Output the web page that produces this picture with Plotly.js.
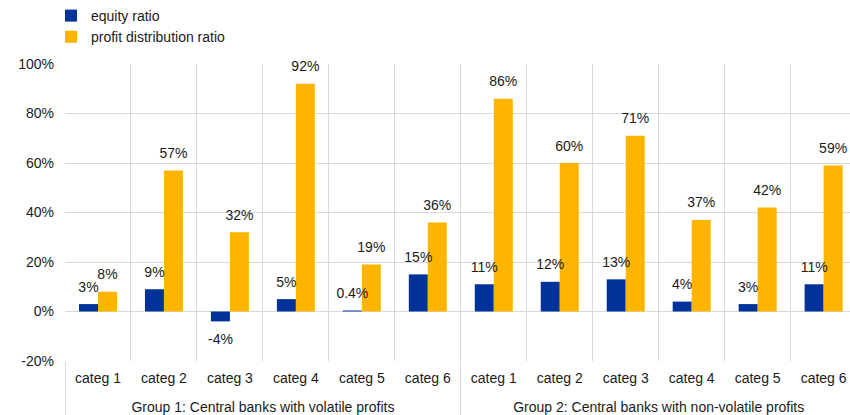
<!DOCTYPE html>
<html>
<head>
<meta charset="utf-8">
<script src="https://cdn.plot.ly/plotly-3.0.1.min.js"></script>
<style>
  html, body { margin: 0; padding: 0; background: #fff; }
  #chart { width: 850px; height: 415px; }
</style>
</head>
<body>
<div id="chart"></div>
<script>
// Category groups and per-category values (in percent)
const groupNames = [
  'Group 1: Central banks with volatile profits',
  'Group 2: Central banks with non-volatile profits'
];
const categories = ['categ 1', 'categ 2', 'categ 3', 'categ 4', 'categ 5', 'categ 6'];
const equityRatio = [3, 9, -4, 5, 0.4, 15, 11, 12, 13, 4, 3, 11];
const profitDistributionRatio = [8, 57, 32, 92, 19, 36, 86, 60, 71, 37, 42, 59];
const yTickValues = [-20, 0, 20, 40, 60, 80, 100];

// Two-level x coordinates: [group, category]; the leading break drops the
// group caption one line below the category labels
const xGroup = [];
const xCat = [];
groupNames.forEach(g => categories.forEach(c => { xGroup.push('<br>' + g); xCat.push(c); }));
const x = [xGroup, xCat];

const BLUE = '#003299';
const GOLD = '#FFB400';
const FONT = '"Liberation Sans", Arial, sans-serif';
const TEXT = '#1a1a1a';
const GRID = '#d9d9d9';
const LABEL_GAP = 2.6; // clearance between a bar end and its value label, in axis units

function valueBars(name, values, color, group) {
  return {
    type: 'bar', name: name, x: x, y: values,
    offsetgroup: group,
    marker: { color: color, line: { width: 0 } },
    hoverinfo: 'skip'
  };
}

// Transparent spacer bars that carry each value label just past the bar end
function labelBars(values, group) {
  return {
    type: 'bar', x: x,
    base: values,
    y: values.map(v => (v < 0 ? -LABEL_GAP : LABEL_GAP)),
    offsetgroup: group,
    marker: { color: 'rgba(0,0,0,0)', line: { width: 0 } },
    text: values.map(v => v + '%'),
    textposition: 'outside',
    constraintext: 'none',
    cliponaxis: false,
    textfont: { family: FONT, size: 14, color: TEXT },
    showlegend: false,
    hoverinfo: 'skip'
  };
}

const data = [
  valueBars('equity ratio', equityRatio, BLUE, 'eq'),
  valueBars('profit distribution ratio', profitDistributionRatio, GOLD, 'pd'),
  labelBars(equityRatio, 'eq'),
  labelBars(profitDistributionRatio, 'pd')
];

const layout = {
  width: 850, height: 415,
  margin: { l: 65, r: 0, t: 64, b: 54, autoexpand: false },
  paper_bgcolor: '#fff', plot_bgcolor: '#fff',
  font: { family: FONT, size: 14, color: TEXT },
  barmode: 'group',
  bargap: 0.424,
  bargroupgap: 0,
  showlegend: true,
  legend: {
    xref: 'container', yref: 'container',
    x: 0.06, y: 1, xanchor: 'left', yanchor: 'top',
    bgcolor: 'rgba(0,0,0,0)',
    font: { family: FONT, size: 14, color: TEXT },
    traceorder: 'normal'
  },
  xaxis: {
    type: 'multicategory',
    range: [-0.5, 11.4],
    tickson: 'boundaries',
    tickangle: 0,
    automargin: false,
    ticklabelstandoff: 7,
    showgrid: true, gridcolor: GRID, gridwidth: 1,
    showdividers: true, dividercolor: GRID, dividerwidth: 1,
    ticks: '',
    showline: false,
    zeroline: false,
    tickfont: { family: FONT, size: 14, color: TEXT }
  },
  yaxis: {
    range: [-20, 100],
    tickvals: yTickValues,
    ticktext: yTickValues.map(v => v + '%'),
    automargin: false,
    showgrid: true, gridcolor: GRID, gridwidth: 1,
    zeroline: true, zerolinecolor: GRID, zerolinewidth: 1,
    showline: false,
    ticks: '',
    ticklabelstandoff: 10,
    tickfont: { family: FONT, size: 14, color: TEXT }
  }
};

Plotly.newPlot('chart', data, layout, { displayModeBar: false, staticPlot: true });
</script>
</body>
</html>
